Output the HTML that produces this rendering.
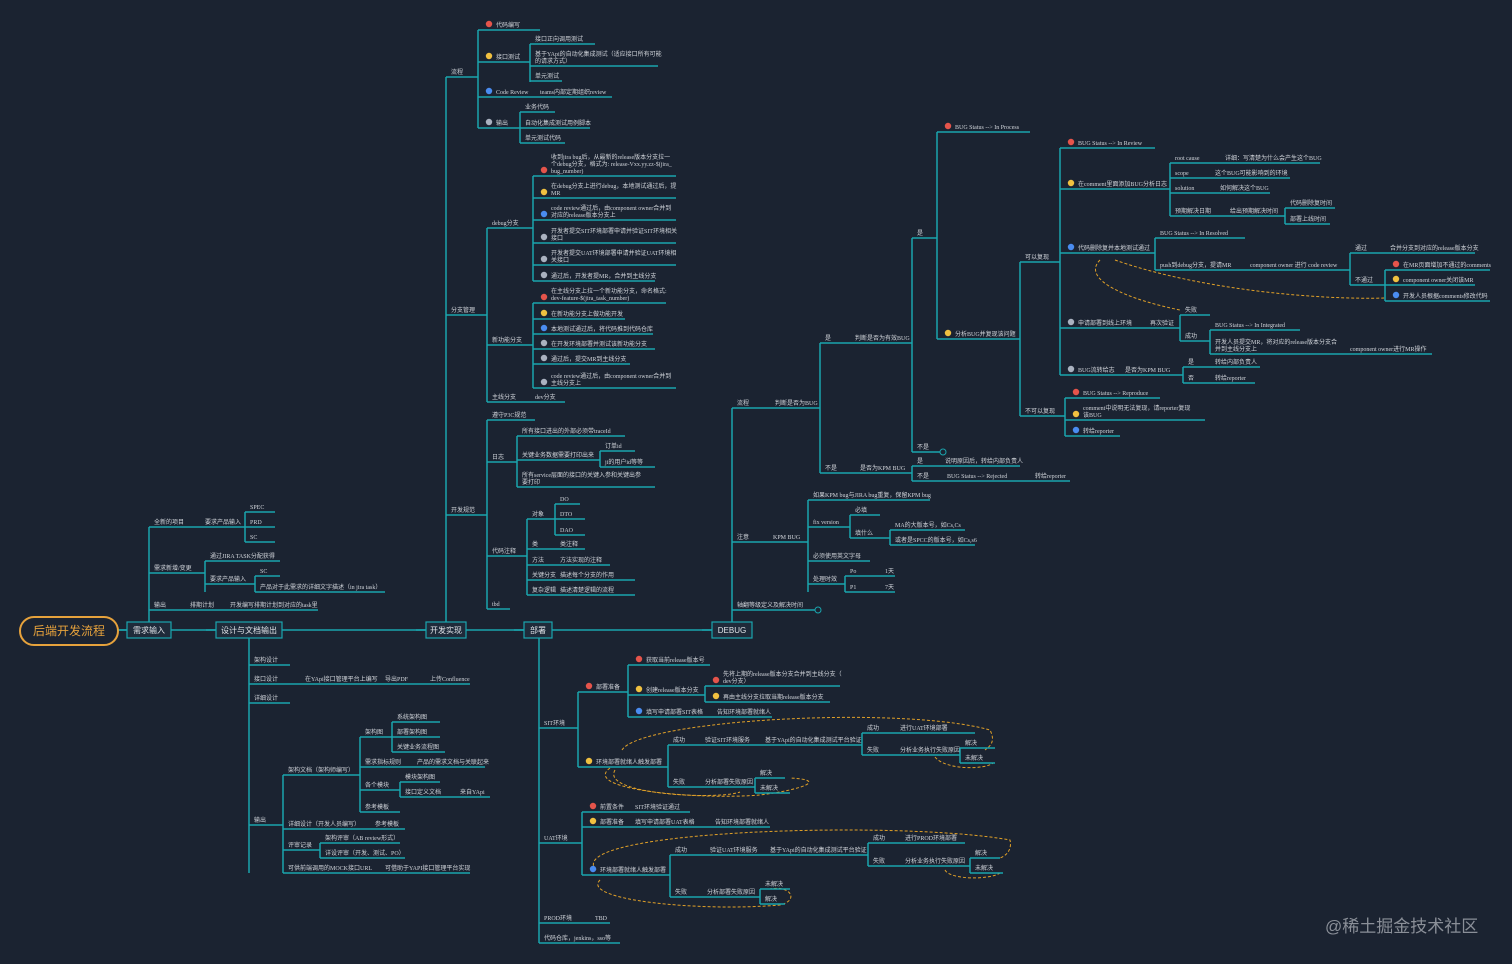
<!DOCTYPE html>
<html><head><meta charset="utf-8">
<style>
html,body{margin:0;padding:0;background:#1b2331;width:1512px;height:964px;overflow:hidden}
svg{display:block}
text{font-family:"Liberation Serif","Noto Sans CJK SC",serif;font-size:6px;fill:#d0d4da}
.b{font-family:"Liberation Sans","Noto Sans CJK SC",sans-serif;font-size:8px;fill:#e0e3e8}
</style></head><body>
<svg id="s" width="1512" height="964" xmlns="http://www.w3.org/2000/svg">
<g id="dash" fill="none" stroke="#e0a028" stroke-width="1" stroke-dasharray="3,2">
<path d="M1100 260 C1080 280 1130 300 1180 310"/>
<path d="M1115 260 C1200 290 1320 300 1385 298"/>
<path d="M622 750 C640 720 900 705 990 730 C995 740 992 745 985 750"/>
<path d="M935 757 C945 770 985 770 993 763"/>
<path d="M610 768 C580 790 700 800 760 795 C800 790 830 780 790 778"/>
<path d="M615 770 C600 795 720 800 740 792"/>
<path d="M596 870 C560 830 900 820 1010 840 C1012 848 1008 855 1000 858"/>
<path d="M945 870 C950 880 990 880 1000 873"/>
<path d="M600 880 C580 900 700 912 780 905 C800 900 790 885 770 889"/>
</g>
<g id="g"></g>
<rect x="20" y="617" width="98" height="28" rx="14" fill="#1b2331" stroke="#e6a23c" stroke-width="2"/>
<text x="69" y="635" text-anchor="middle" style="font-family:'Liberation Sans','Noto Sans CJK SC',sans-serif;font-size:12px;fill:#e6a23c">后端开发流程</text>
<text x="1325" y="932" style="font-family:'Liberation Sans','Noto Sans CJK SC',sans-serif;font-size:17px;fill:#8a8f98">@稀土掘金技术社区</text>
</svg>
<script>
const g=document.getElementById('g');const NS='http://www.w3.org/2000/svg';
function el(t,a,txt){const e=document.createElementNS(NS,t);for(const k in a)e.setAttribute(k,a[k]);if(txt)e.textContent=txt;g.appendChild(e);return e;}
const C='#1ba5ae';
function V(x,y1,y2){el('line',{x1:x,y1:y1,x2:x,y2:y2,stroke:C,'stroke-width':1.5});}
const IC={r:'#e5544b',y:'#f0c040',b:'#4a8cf0',w:'#aab2c0'};
function L(x1,y,x2,t,ic){el('line',{x1:x1,y1:y,x2:x2,y2:y,stroke:C,'stroke-width':1.5});if(!t)return;let tx=x1+5;
if(ic){el('circle',{cx:x1+11,cy:y-6,r:3.2,fill:IC[ic]});tx=x1+18;}
const ls=t.split('|');ls.forEach((s,i)=>el('text',{x:tx,y:y-3-(ls.length-1-i)*7},s));}
function B(x1,x2,t){L(x1-10,630,x1);el('rect',{x:x1,y:622,width:x2-x1,height:16,fill:'#1f2b3a',stroke:C,'stroke-width':1.2});el('text',{x:(x1+x2)/2,y:633,'text-anchor':'middle',class:'b'},t);}
L(118,630,716);
// 需求输入
V(149,527,630);L(149,527,200,'全新的项目');L(200,527,245,'要求产品输入');V(245,512,542);L(245,512,275,'SPEC');L(245,527,275,'PRD');L(245,542,275,'SC');
L(149,573,205,'需求新增/变更');V(205,561,592);L(205,561,280,'通过JIRA TASK分配获得');L(205,584,255,'要求产品输入');V(255,576,592);L(255,576,280,'SC');L(255,592,385,'产品对于此需求的详细文字描述（in jira task）');
L(149,610,185,'输出');L(185,610,225,'排期计划');L(225,610,318,'开发编写排期计划到对应的task里');
// 设计
V(249,638,873);L(249,665,290,'架构设计');L(249,684,300,'接口设计');L(300,684,380,'在YApi接口管理平台上编写');L(380,684,425,'导出PDF');L(425,684,470,'上传Confluence');L(249,703,290,'详细设计');
L(249,825,283,'输出');V(283,775,873);L(283,775,360,'架构文档（架构师编写）');V(360,737,812);L(360,737,392,'架构图');V(392,722,752);L(392,722,440,'系统架构图');L(392,737,440,'部署架构图');L(392,752,445,'关键业务流程图');
L(360,767,412,'需求指标规则');L(412,767,485,'产品的需求文档与关联起来');L(360,790,400,'各个模块');V(400,782,797);L(400,782,440,'模块架构图');L(400,797,455,'接口定义文档');L(455,797,490,'来自YApi');L(360,812,400,'参考模板');
L(283,829,370,'详细设计（开发人员编写）');L(370,829,405,'参考模板');L(283,850,320,'评审记录');V(320,843,858);L(320,843,400,'架构评审（AB review形式）');L(320,858,405,'详设评审（开发、测试、PO）');L(283,873,380,'可供前端调用的MOCK接口URL');L(380,873,470,'可借助于YAPI接口管理平台实现');
// 开发实现
V(446,77,630);L(446,77,478,'流程');V(478,30,128);L(478,30,540,'代码编写','r');L(478,62,530,'接口测试','y');V(530,44,82);L(530,44,595,'接口正向调用测试');L(530,66,658,'基于YApi的自动化集成测试（适应接口所有可能|的请求方式）');L(530,81,562,'单元测试');
L(478,97,535,'Code Review','b');L(535,97,612,'teams内部定期组织review');L(478,128,520,'输出','w');V(520,112,143);L(520,112,555,'业务代码');L(520,128,590,'自动化集成测试用例脚本');L(520,143,565,'单元测试代码');
L(446,315,487,'分支管理');V(487,228,402);L(487,228,533,'debug分支');V(533,176,281);
L(533,176,676,'收到jira bug后，从最新的release版本分支拉一|个debug分支，格式为: release-Vxx.yy.zz-$(jira_|bug_number)','r');L(533,198,676,'在debug分支上进行debug，本地测试通过后，提|MR','y');L(533,220,676,'code review通过后，由component owner合并到|对应的release版本分支上','b');L(533,243,676,'开发者提交SIT环境部署申请并验证SIT环境相关|接口','w');L(533,265,676,'开发者提交UAT环境部署申请并验证UAT环境相|关接口','w');L(533,281,655,'通过后，开发者提MR，合并到主线分支','w');
L(487,345,533,'新功能分支');V(533,303,388);L(533,303,666,'在主线分支上拉一个新功能分支，命名格式:|dev-feature-$(jira_task_number)','r');L(533,319,625,'在新功能分支上做功能开发','y');L(533,334,653,'本地测试通过后，将代码推到代码仓库','b');L(533,349,655,'在开发环境部署并测试该新功能分支','w');L(533,364,630,'通过后，提交MR到主线分支','w');L(533,388,676,'code review通过后，由component owner合并到|主线分支上','w');
L(487,402,530,'主线分支');L(530,402,565,'dev分支');
L(446,515,487,'开发规范');V(487,420,609);L(487,420,535,'遵守P3C规范');L(487,462,517,'日志');V(517,436,487);L(517,436,625,'所有接口进出的外部必须带traceId');L(517,460,600,'关键业务数据需要打印出来');V(600,451,467);L(600,451,635,'订单id');L(600,467,655,'ji的用户id等等');L(517,487,655,'所有service层面的接口的关键入参和关键出参|要打印');
L(487,556,527,'代码注释');V(527,519,595);L(527,519,555,'对象');V(555,504,535);L(555,504,580,'DO');L(555,519,585,'DTO');L(555,535,585,'DAO');L(527,549,555,'类');L(555,549,585,'类注释');L(527,565,555,'方法');L(555,565,610,'方法实现的注释');L(527,580,555,'关键分支');L(555,580,635,'描述每个分支的作用');L(527,595,555,'复杂逻辑');L(555,595,635,'描述清楚逻辑的流程');L(487,609,510,'tbd');
// 部署
V(539,638,943);L(539,728,578,'SIT环境');V(578,692,767);L(578,692,628,'部署准备','r');V(628,665,717);L(628,665,710,'获取当前release版本号','r');L(628,695,705,'创建release版本分支','y');V(705,686,702);L(705,686,840,'先将上期的release版本分支合并到主线分支（|dev分支）','r');L(705,702,830,'再由主线分支拉取当期release版本分支','y');L(628,717,712,'填写申请部署SIT表格','b');L(712,717,772,'告知环境部署就绪人');
L(578,767,668,'环境部署就绪人触发部署','y');V(668,745,787);L(668,745,700,'成功');L(700,745,760,'验证SIT环境服务');L(760,745,862,'基于YApi的自动化集成测试平台验证');V(862,733,755);L(862,733,895,'成功');L(895,733,975,'进行UAT环境部署');L(862,755,895,'失败');L(895,755,960,'分析业务执行失败原因');V(960,748,763);L(960,748,995,'解决');L(960,763,995,'未解决');
L(668,787,700,'失败');L(700,787,755,'分析部署失败原因');V(755,778,793);L(755,778,785,'解决');L(755,793,790,'未解决');
L(539,843,582,'UAT环境');V(582,812,875);L(582,812,630,'前置条件','r');L(630,812,690,'SIT环境验证通过');L(582,827,630,'部署准备','y');L(630,827,710,'填写申请部署UAT表格');L(710,827,770,'告知环境部署就绪人');
L(582,875,670,'环境部署就绪人触发部署','b');V(670,855,897);L(670,855,705,'成功');L(705,855,765,'验证UAT环境服务');L(765,855,868,'基于YApi的自动化集成测试平台验证');V(868,843,866);L(868,843,900,'成功');L(900,843,965,'进行PROD环境部署');L(868,866,900,'失败');L(900,866,970,'分析业务执行失败原因');V(970,858,873);L(970,858,1000,'解决');L(970,873,1003,'未解决');
L(670,897,702,'失败');L(702,897,760,'分析部署失败原因');V(760,889,904);L(760,889,790,'未解决');L(760,904,785,'解决');
L(539,923,590,'PROD环境');L(590,923,610,'TBD');L(539,943,620,'代码仓库，jenkins，sso等');
// DEBUG
V(732,408,630);L(732,408,770,'流程');L(770,408,820,'判断是否为BUG');V(820,343,473);L(820,343,850,'是');L(850,343,912,'判断是否为有效BUG');V(912,238,452);L(912,238,937,'是');V(937,132,339);
L(937,132,1030,'BUG Status --> In Process','r');L(937,339,1020,'分析BUG并复现该问题','y');V(1020,262,416);L(1020,262,1060,'可以复现');V(1060,148,375);
L(1060,148,1155,'BUG Status --> In Review','r');L(1060,189,1170,'在comment里面添加BUG分析日志','y');V(1170,163,216);L(1170,163,1220,'root cause');L(1220,163,1320,'详细：写清楚为什么会产生这个BUG');L(1170,178,1210,'scope');L(1210,178,1290,'这个BUG可能影响到的环境');L(1170,193,1215,'solution');L(1215,193,1270,'如何解决这个BUG');L(1170,216,1225,'预期解决日期');L(1225,216,1285,'给出预期解决时间');V(1285,208,224);L(1285,208,1335,'代码删除复时间');L(1285,224,1330,'部署上线时间');
L(1060,253,1155,'代码删除复并本地测试通过','b');V(1155,238,270);L(1155,238,1245,'BUG Status --> In Resolved');L(1155,270,1245,'push到debug分支，提请MR');L(1245,270,1350,'component owner 进行 code review');V(1350,253,285);L(1350,253,1385,'通过');L(1385,253,1475,'合并分支到对应的release版本分支');L(1350,285,1385,'不通过');V(1385,270,301);L(1385,270,1490,'在MR页面增加不通过的comments','r');L(1385,285,1475,'component owner关闭该MR','y');L(1385,301,1490,'开发人员根据comments修改代码','b');
L(1060,328,1145,'申请部署到线上环境','w');L(1145,328,1180,'再次验证');V(1180,315,341);L(1180,315,1210,'失败');L(1180,341,1210,'成功');V(1210,330,354);L(1210,330,1300,'BUG Status --> In Integrated');L(1210,354,1345,'开发人员提交MR，将对应的release版本分支合|并到主线分支上');L(1345,354,1432,'component owner进行MR操作');
L(1060,375,1120,'BUG流转给志','w');L(1120,375,1183,'是否为KPM BUG');V(1183,367,383);L(1183,367,1210,'是');L(1210,367,1260,'转给内部负责人');L(1183,383,1210,'否');L(1210,383,1255,'转给reporter');
L(1020,416,1065,'不可以复现');V(1065,398,436);L(1065,398,1160,'BUG Status --> Reproduce','r');L(1065,420,1205,'comment中说明无法复现，请reporter复现|该BUG','y');L(1065,436,1120,'转给reporter','b');
L(912,452,940,'不是');el('circle',{cx:943,cy:452,r:3,fill:'none',stroke:C});
L(820,473,855,'不是');L(855,473,912,'是否为KPM BUG');V(912,466,481);L(912,466,940,'是');L(940,466,1020,'说明原因后，转给内部负责人');L(912,481,942,'不是');L(942,481,1030,'BUG Status --> Rejected');L(1030,481,1070,'转给reporter');
L(732,542,768,'注意');L(768,542,808,'KPM BUG');V(808,500,592);L(808,500,930,'如果KPM bug与JIRA bug重复，保留KPM bug');L(808,527,850,'fix version');V(850,515,538);L(850,515,880,'必填');L(850,538,890,'填什么');V(890,530,545);L(890,530,965,'MA的大版本号，如Cs,Cs');L(890,545,975,'或者是SPCC的版本号，如Cs,s6');L(808,561,870,'必须使用英文字母');L(808,584,845,'处理时效');V(845,576,592);L(845,576,880,'Po');L(880,576,895,'1天');L(845,592,880,'P1');L(880,592,895,'7天');
L(732,610,815,'轴翻等级定义及解决时间');el('circle',{cx:818,cy:610,r:3,fill:'none',stroke:C});
B(127,171,'需求输入');B(216,282,'设计与文档输出');B(426,466,'开发实现');B(524,552,'部署');B(712,752,'DEBUG');
</script>
</body></html>
